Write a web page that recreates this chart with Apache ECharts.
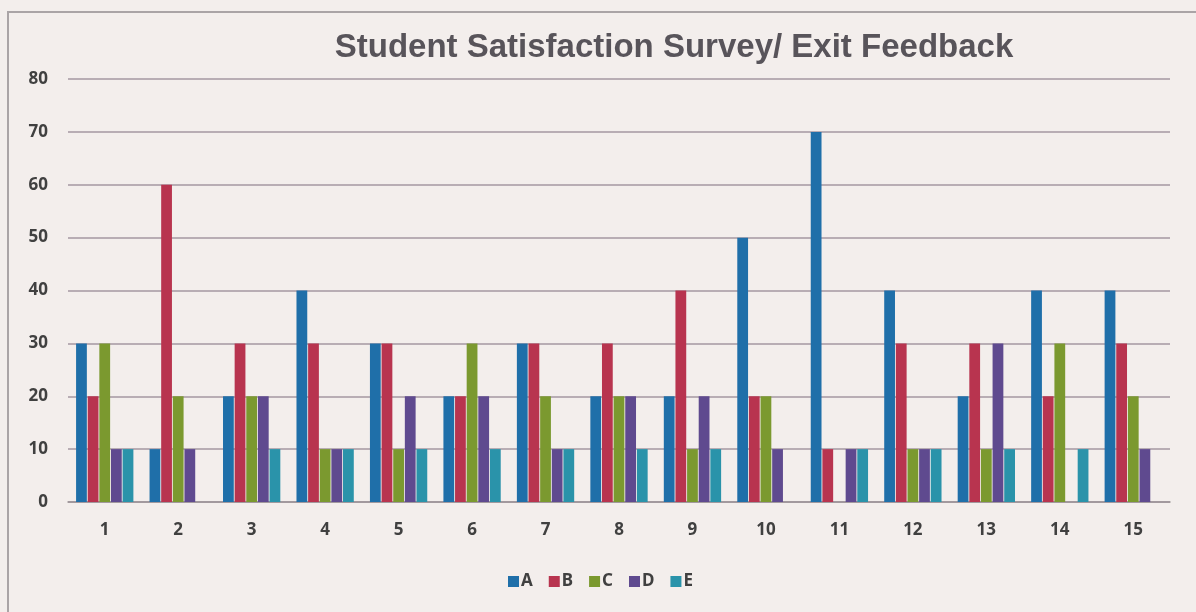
<!DOCTYPE html>
<html>
<head>
<meta charset="utf-8">
<script src="https://cdn.jsdelivr.net/npm/echarts@6/dist/echarts.min.js"></script>
<style>
html,body{margin:0;padding:0;background:#f3eeec;}
#c{width:1196px;height:612px;}
</style>
</head>
<body>
<div id="c"></div>
<script>
const categories = ['1','2','3','4','5','6','7','8','9','10','11','12','13','14','15'];
const seriesNames = ['A','B','C','D','E'];
const A = [30,10,20,40,30,20,30,20,20,50,70,40,20,40,40];
const B = [20,60,30,30,30,20,30,30,40,20,10,30,30,20,30];
const C = [30,20,20,10,10,30,20,20,10,20,0,10,10,30,20];
const D = [10,10,20,10,20,20,10,20,20,10,10,10,30,0,10];
const E = [10,0,10,10,10,10,10,10,10,0,10,10,10,10,0];
const yTicks = [0,10,20,30,40,50,60,70,80];
const colors = ['#1f6fa9','#b8344f','#7b992f','#5f4a8f','#2a93aa'];

const values = [A,B,C,D,E];
const chart = echarts.init(document.getElementById('c'));
chart.setOption({
  backgroundColor:'#f3eeec',
  animation:false,
  title:{
    text:'Student Satisfaction Survey/ Exit Feedback',
    left:669, top:26, textAlign:'center',
    textStyle:{fontFamily:'Liberation Sans',fontSize:33,fontWeight:'bold',color:'#58545a'}
  },
  graphic:[{type:'rect',shape:{x:8,y:12,width:1200,height:620},style:{fill:'none',stroke:'#aaa4a6',lineWidth:2},silent:true}],
  legend:{
    data:seriesNames, left:503, top:568, itemWidth:11, itemHeight:11, itemGap:16,
    icon:'rect',
    textStyle:{fontFamily:'Noto Sans',fontWeight:'bold',fontSize:17,color:'#404040',padding:[0,0,0,-3]}
  },
  grid:{left:68,right:26,top:79,bottom:110},
  xAxis:{
    type:'category', data:categories,
    axisLine:{lineStyle:{color:'#9a9396',width:1.5}},
    axisTick:{show:false},
    axisLabel:{fontFamily:'Noto Sans',fontWeight:'bold',fontSize:17,color:'#404040',margin:20}
  },
  yAxis:{
    type:'value', min:0, max:80, interval:10,
    axisLine:{show:false}, axisTick:{show:false},
    axisLabel:{fontFamily:'Noto Sans',fontWeight:'bold',fontSize:17,color:'#404040',margin:20,
      formatter:v=>yTicks.includes(v)?String(v):''},
    splitLine:{lineStyle:{color:'#a597a2',width:1.5}}
  },
  series: seriesNames.map((n,i)=>({
    name:n, type:'bar', data:values[i], barGap:'8%', barCategoryGap:'22%',
    itemStyle:{color:colors[i]}
  }))
});
</script>
</body>
</html>
